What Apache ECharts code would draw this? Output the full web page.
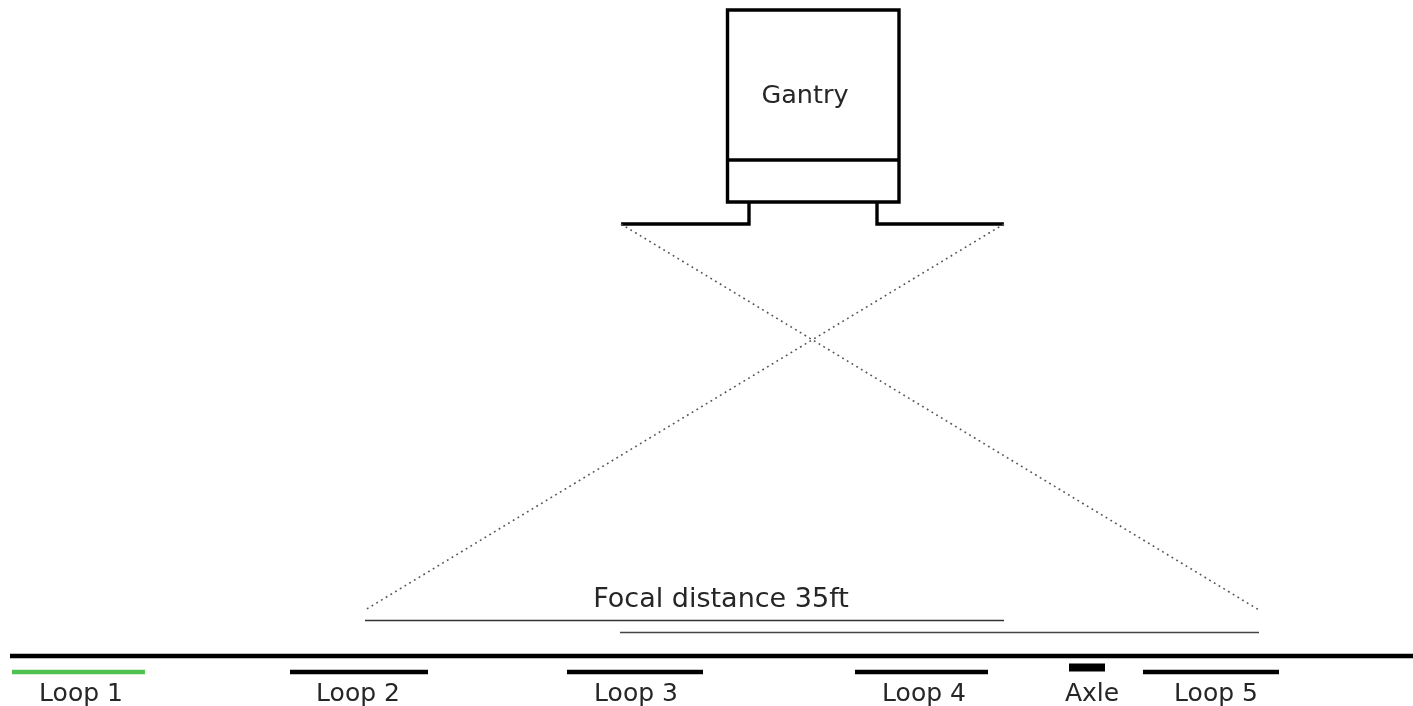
<!DOCTYPE html>
<html><head><meta charset="utf-8">
<style>html,body{margin:0;padding:0;background:#fff}#c{width:1413px;height:706px}</style>
<script src="https://cdn.jsdelivr.net/npm/echarts@6/dist/echarts.min.js"></script>
</head><body><div id="c"></div>
<script>
const gantryBox = [[813,10],[899,10],[899,202],[727.5,202],[727.5,10],[813,10]];
const gantryDivider = [[727.5,160],[899,160]];
const leftArm = [[749,202],[749,224],[621,224]];
const rightArm = [[877,202],[877,224],[1004,224]];
const rayA = [[621,224],[1259,610]];
const rayB = [[1004,224],[365,610]];
const focalA = [[365,620.5],[1004,620.5]];
const focalB = [[620,632.5],[1259,632.5]];
const road = [[10,656],[1413,656]];
const loop1 = [[12,672],[145,672]];
const loop2 = [[290,672],[428,672]];
const loop3 = [[567,672],[703,672]];
const loop4 = [[855,672],[988,672]];
const loop5 = [[1143,672],[1279,672]];
const axle = [[1069,667.5],[1105,667.5]];
const textNames = ['Gantry','Focal distance 35ft','Loop 1','Loop 2','Loop 3','Loop 4','Axle','Loop 5'];
const textPoints = [[805,96],[721,600],[81,694.5],[358,694.5],[636,694.5],[924,694.5],[1092,694.5],[1216,694.5]];

const line = (data,width,color,type) => ({type:'line',data,symbol:'none',silent:true,animation:false,
  lineStyle:{width,color:color||'#000',type:type||'solid',cap:'butt',join:'miter'}});
const chart = echarts.init(document.getElementById('c'),null,{renderer:'canvas'});
chart.setOption({
  animation:false,backgroundColor:'#fff',
  grid:{left:0,right:0,top:0,bottom:0},
  xAxis:{type:'value',min:0,max:1413,show:false},
  yAxis:{type:'value',min:0,max:706,inverse:true,show:false},
  series:[
    line(gantryBox,3.4),line(gantryDivider,3.4),line(leftArm,3.4),line(rightArm,3.4),
    line(rayA,1.6,'#555',[1.8,3.7]),line(rayB,1.6,'#555',[1.8,3.7]),
    line(focalA,1.4,'#333'),line(focalB,1.4,'#444'),
    line(road,4.6),
    line(loop1,4.4,'#4fc24f'),line(loop2,4.4),line(loop3,4.4),line(loop4,4.4),line(loop5,4.4),
    line(axle,8),
    {type:'scatter',symbolSize:0,silent:true,animation:false,
     itemStyle:{opacity:1},
     data:textPoints.map((p,i)=>({value:p,name:textNames[i],
       label:{fontSize:i===0?25.5:i===1?27:25}})),
     label:{show:true,position:'inside',formatter:'{b}',fontFamily:'DejaVu Sans',color:'#262626',opacity:1}}
  ]
});
</script></body></html>
